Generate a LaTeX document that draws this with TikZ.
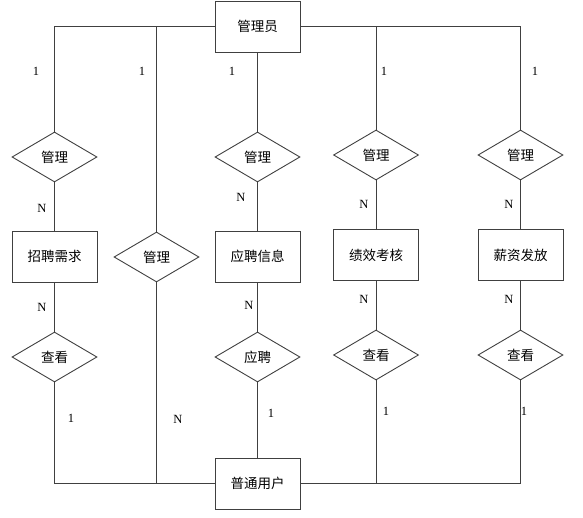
\documentclass[tikz,border=0pt]{standalone}
\usepackage{fontspec}
\setmainfont{Liberation Serif}
\newfontfamily\cjk{Noto Sans CJK SC}
\usetikzlibrary{shapes.geometric}
\begin{document}
\begin{tikzpicture}[x=1pt,y=-1pt,
  line width=0.9pt,
  entity/.style={draw=black!75, rectangle, minimum width=85pt, minimum height=51pt, inner sep=0pt, font=\cjk\fontsize{13.5}{15}\selectfont},
  rel/.style={draw=black!75, diamond, minimum width=85pt, minimum height=50pt, inner sep=0pt, font=\cjk\fontsize{13.5}{15}\selectfont},
  conn/.style={draw=black!75},
  card/.style={font=\fontsize{12.5}{14}\selectfont, inner sep=0pt}]
\useasboundingbox (0,0) rectangle (583,518);
% entities
\node[entity] (admin) at (257.5,26.5) {管理员};
\node[entity] (zp) at (54.5,256.5) {招聘需求};
\node[entity] (yp) at (257.5,256.5) {应聘信息};
\node[entity] (jx) at (376,255) {绩效考核};
\node[entity] (xz) at (520.5,255) {薪资发放};
\node[entity] (user) at (257.5,483.5) {普通用户};
% relations top
\node[rel] (r1) at (54.5,157) {管理};
\node[rel] (r2) at (156.5,257) {管理};
\node[rel] (r3) at (257.5,157) {管理};
\node[rel] (r4) at (376,155) {管理};
\node[rel] (r5) at (520.5,155) {管理};
% relations bottom
\node[rel] (v1) at (54.5,357) {查看};
\node[rel] (v3) at (257.5,357) {应聘};
\node[rel] (v4) at (376,355) {查看};
\node[rel] (v5) at (520.5,355) {查看};
% connectors top
\draw[conn] (admin.west) -| (r1.north);
\draw[conn] (admin.east) -| (r5.north);
\draw[conn] (r2.north |- admin.west) -- (r2.north);
\draw[conn] (r4.north |- admin.east) -- (r4.north);
\draw[conn] (admin.south) -- (r3.north);
\draw[conn] (r1.south) -- (zp.north);
\draw[conn] (r3.south) -- (yp.north);
\draw[conn] (r4.south) -- (jx.north);
\draw[conn] (r5.south) -- (xz.north);
% connectors bottom
\draw[conn] (zp.south) -- (v1.north);
\draw[conn] (yp.south) -- (v3.north);
\draw[conn] (jx.south) -- (v4.north);
\draw[conn] (xz.south) -- (v5.north);
\draw[conn] (v1.south) |- (user.west);
\draw[conn] (r2.south) -- (r2.south |- user.west);
\draw[conn] (v3.south) -- (user.north);
\draw[conn] (v4.south) |- (user.east);
\draw[conn] (v5.south) |- (user.east);
% cardinalities
\node[card] (c1) at (36,71) {1};
\node[card] (c2) at (142,71) {1};
\node[card] (c3) at (232,71) {1};
\node[card] (c4) at (384,71) {1};
\node[card] (c5) at (535,71) {1};
\node[card] (n1) at (42,208) {N};
\node[card] (n3) at (241,197) {N};
\node[card] (n4) at (364,204) {N};
\node[card] (n5) at (509,204) {N};
\node[card] (m1) at (42,307) {N};
\node[card] (m3) at (249,305) {N};
\node[card] (m4) at (364,299) {N};
\node[card] (m5) at (509,299) {N};
\node[card] (b1) at (71,418) {1};
\node[card] (b2) at (178,419) {N};
\node[card] (b3) at (271,413) {1};
\node[card] (b4) at (386,411) {1};
\node[card] (b5) at (524,411) {1};
\end{tikzpicture}
\end{document}
